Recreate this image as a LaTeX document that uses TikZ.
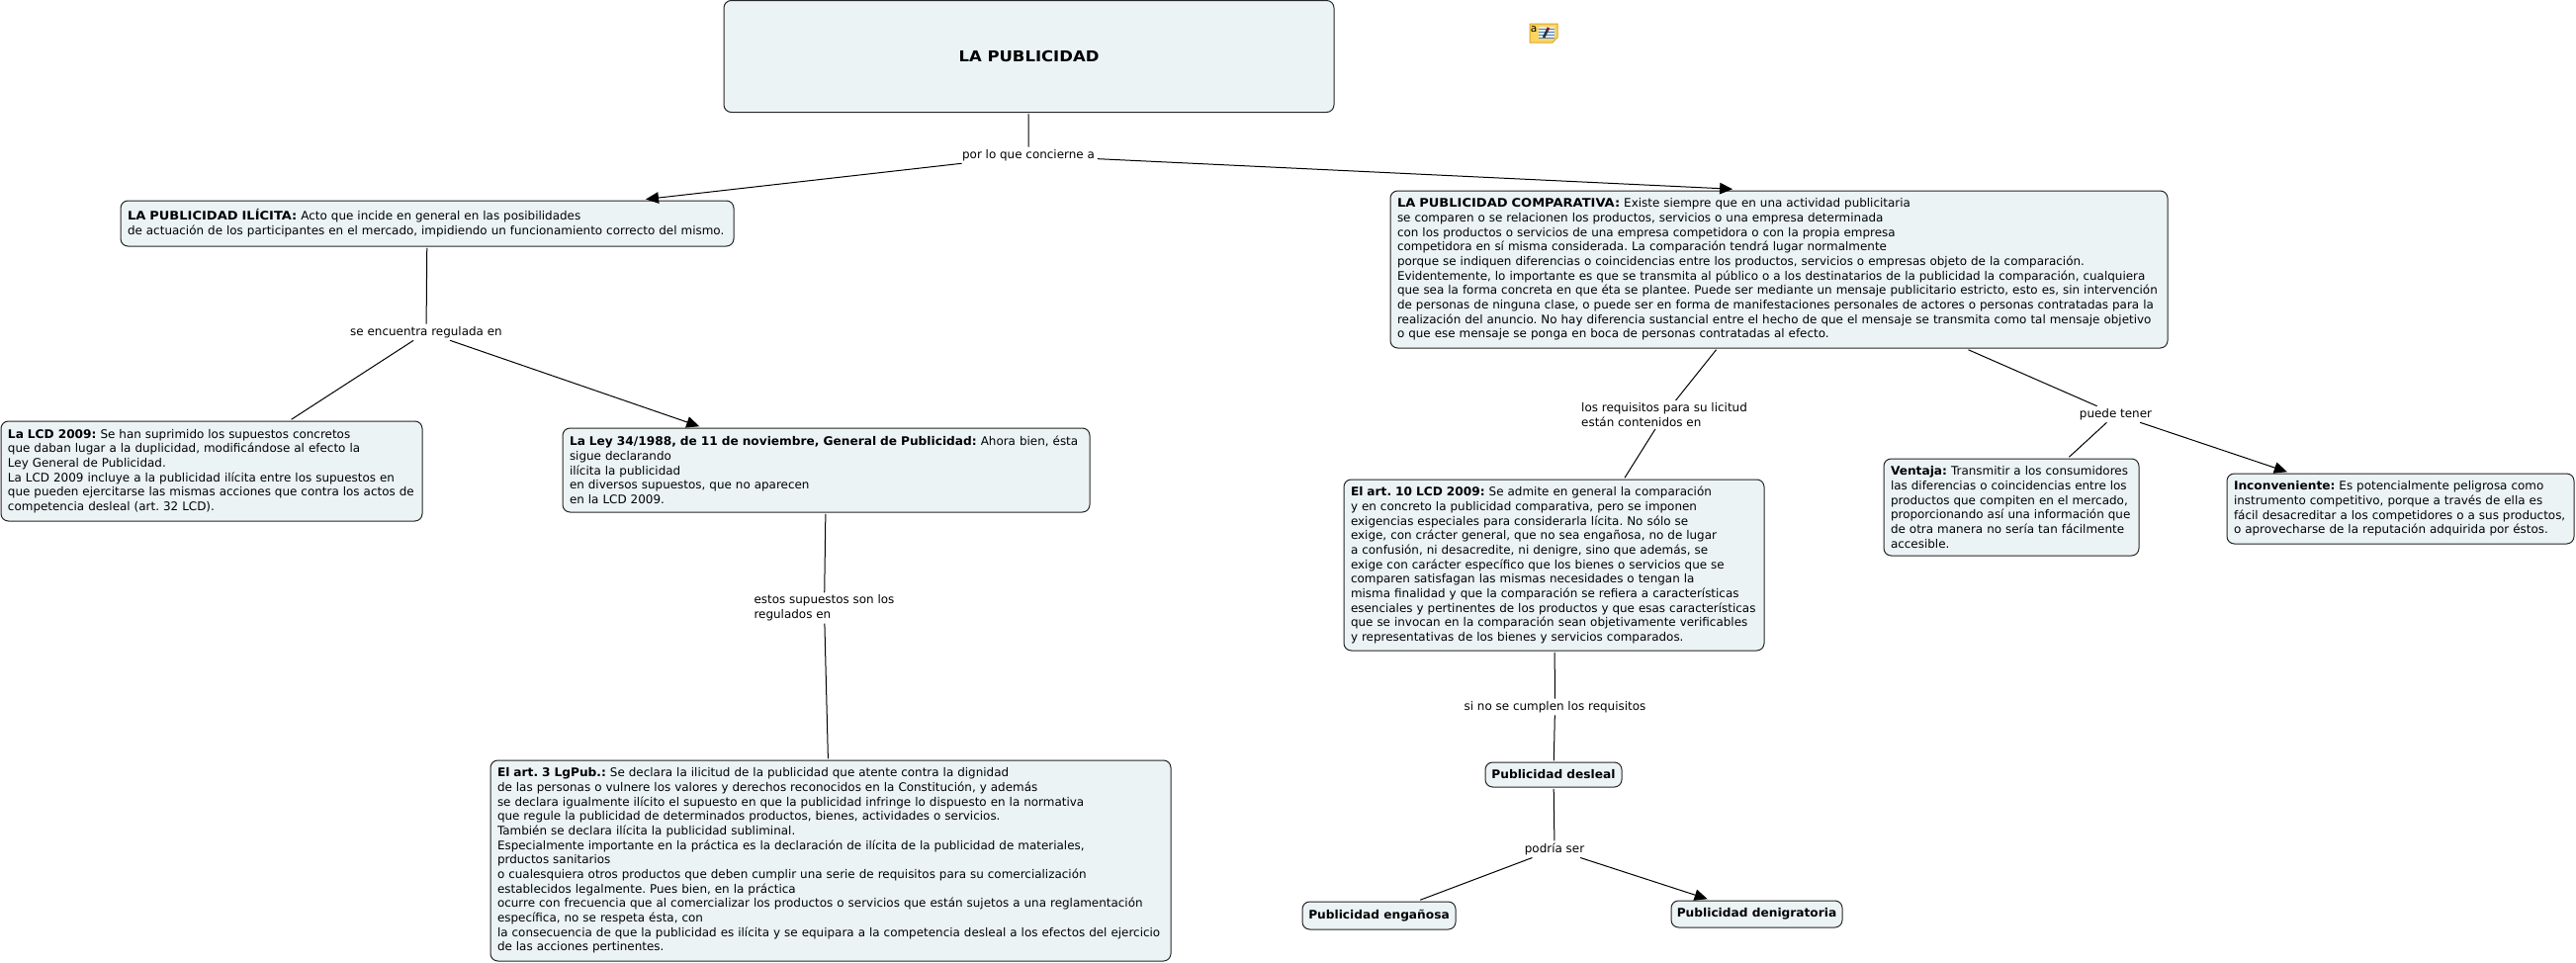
\documentclass[tikz,border=0pt]{standalone}
\usepackage{fontspec}
\setmainfont[BoldFeatures={FakeStretch=1.02}]{DejaVu Sans}
\newfontface\mayusculas[FakeStretch=1.09]{DejaVu Sans Bold}
\usetikzlibrary{arrows.meta}
\definecolor{cajafondo}{RGB}{236,243,245}
\definecolor{notaamarilla}{RGB}{250,214,96}
\definecolor{notaborde}{RGB}{222,164,40}
\definecolor{notalinea}{RGB}{70,130,200}
\newcommand{\letrachica}{\fontsize{6.8}{8.35}\selectfont\frenchspacing\hyphenpenalty=10000\exhyphenpenalty=10000 }

\begin{document}
\begin{tikzpicture}
				[x=0.2mm,y=-0.2mm,line width=0.2mm,
				cajabase/.style={draw=black!85,rounded corners=1.5mm,fill=cajafondo,inner ysep=0pt,outer sep=0.35mm,font=\letrachica},
				caja/.style 2 args={cajabase,align=left,inner xsep=1.4mm,text width=#1*0.2mm-2.8mm,minimum height=#2*0.2mm},
				cajita/.style 2 args={cajabase,inner xsep=0pt,minimum width=#1*0.2mm,minimum height=#2*0.2mm},
				enlace/.style={align=left,inner xsep=0.5mm,inner ysep=0.4mm,font=\letrachica}]
				\useasboundingbox (0,0) rectangle (2605,974);

				\node[cajita={617}{113},font=\mayusculas\fontsize{8.6}{11}\selectfont] (publicidad) at (1040.5,57) {LA PUBLICIDAD};
				\node[enlace] (concierne) at (1040,157) {por lo que concierne a};

				\node[caja={620}{46}] (ilicita) at (432,226) {{\mayusculas LA PUBLICIDAD ILÍCITA:} Acto que incide en general en las posibilidades\\
					de actuación de los participantes en el mercado, impidiendo un funcionamiento correcto del mismo.};
				\coordinate (entrada) at (653,201.5);
				\node[enlace] (regulada) at (431,336) {se encuentra regulada en};
				\node[caja={426}{101}] (lcd) at (214,476.5) {\textbf{La LCD 2009:} Se han suprimido los supuestos concretos\\
					que daban lugar a la duplicidad, modificándose al efecto la\\
					Ley General de Publicidad.\\
					La LCD 2009 incluye a la publicidad ilícita entre los supuestos en\\
					que pueden ejercitarse las mismas acciones que contra los actos de\\
					competencia desleal (art. 32 LCD).};
				\node[caja={533}{85}] (ley) at (835.5,475.5) {\textbf{La Ley 34/1988, de 11 de noviembre, General de Publicidad:} Ahora bien, ésta\\
					sigue declarando\\
					ilícita la publicidad\\
					en diversos supuestos, que no aparecen\\
					en la LCD 2009.};
				\node[enlace] (regulados) at (833.5,615) {estos supuestos son los\\regulados en};
				\node[caja={688}{203}] (art3) at (840,870.5) {\textbf{El art. 3 LgPub.:} Se declara la ilicitud de la publicidad que atente contra la dignidad\\
					de las personas o vulnere los valores y derechos reconocidos en la Constitución, y además\\
					se declara igualmente ilícito el supuesto en que la publicidad infringe lo dispuesto en la normativa\\
					que regule la publicidad de determinados productos, bienes, actividades o servicios.\\
					También se declara ilícita la publicidad subliminal.\\
					Especialmente importante en la práctica es la declaración de ilícita de la publicidad de materiales,\\
					prductos sanitarios\\
					o cualesquiera otros productos que deben cumplir una serie de requisitos para su comercialización\\
					establecidos legalmente. Pues bien, en la práctica\\
					ocurre con frecuencia que al comercializar los productos o servicios que están sujetos a una reglamentación\\
					específica, no se respeta ésta, con\\
					la consecuencia de que la publicidad es ilícita y se equipara a la competencia desleal a los efectos del ejercicio\\
					de las acciones pertinentes.};

				\node[caja={786}{159}] (comparativa) at (1799,272.5) {{\mayusculas LA PUBLICIDAD COMPARATIVA:} Existe siempre que en una actividad publicitaria\\
					se comparen o se relacionen los productos, servicios o una empresa determinada\\
					con los productos o servicios de una empresa competidora o con la propia empresa\\
					competidora en sí misma considerada. La comparación tendrá lugar normalmente\\
					porque se indiquen diferencias o coincidencias entre los productos, servicios o empresas objeto de la comparación.\\
					Evidentemente, lo importante es que se transmita al público o a los destinatarios de la publicidad la comparación, cualquiera\\
					que sea la forma concreta en que éta se plantee. Puede ser mediante un mensaje publicitario estricto, esto es, sin intervención\\
					de personas de ninguna clase, o puede ser en forma de manifestaciones personales de actores o personas contratadas para la\\
					realización del anuncio. No hay diferencia sustancial entre el hecho de que el mensaje se transmita como tal mensaje objetivo\\
					o que ese mensaje se ponga en boca de personas contratadas al efecto.};
				\node[enlace] (requisitos) at (1683,419.5) {los requisitos para su licitud\\están contenidos en};
				\node[caja={425}{173}] (art10) at (1571.5,571.5) {\textbf{El art. 10 LCD 2009:} Se admite en general la comparación\\
					y en concreto la publicidad comparativa, pero se imponen\\
					exigencias especiales para considerarla lícita. No sólo se\\
					exige, con crácter general, que no sea engañosa, no de lugar\\
					a confusión, ni desacredite, ni denigre, sino que además, se\\
					exige con carácter específico que los bienes o servicios que se\\
					comparen satisfagan las mismas necesidades o tengan la\\
					misma finalidad y que la comparación se refiera a características\\
					esenciales y pertinentes de los productos y que esas características\\
					que se invocan en la comparación sean objetivamente verificables\\
					y representativas de los bienes y servicios comparados.};
				\node[enlace] (tener) at (2139.5,419) {puede tener};
				\node[caja={258}{98}] (ventaja) at (2034,513) {\textbf{Ventaja:} Transmitir a los consumidores\\
					las diferencias o coincidencias entre los\\
					productos que compiten en el mercado,\\
					proporcionando así una información que\\
					de otra manera no sería tan fácilmente\\
					accesible.};
				\node[caja={351}{71}] (inconveniente) at (2427.5,514.5) {\textbf{Inconveniente:} Es potencialmente peligrosa como\\
					instrumento competitivo, porque a través de ella es\\
					fácil desacreditar a los competidores o a sus productos,\\
					o aprovecharse de la reputación adquirida por éstos.};

				\node[enlace] (sino) at (1572.5,715) {si no se cumplen los requisitos};
				\node[cajita={138}{25}] (desleal) at (1571,783.5) {\textbf{Publicidad desleal}};
				\node[enlace] (podria) at (1572,859) {podría ser};
				\node[cajita={155}{28}] (enganosa) at (1394.5,926) {\textbf{Publicidad engañosa}};
				\node[cajita={173}{27}] (denigratoria) at (1776.5,924.5) {\textbf{Publicidad denigratoria}};

				% lineas sin punta
				\foreach \a/\b in {publicidad/concierne,ilicita/regulada,regulada/lcd,ley/regulados,regulados/art3,
					comparativa.232/requisitos,requisitos/art10.51,comparativa.-23/tener,tener/ventaja.41,
					art10/sino,sino/desleal,desleal/podria,podria/enganosa}
				\draw (\a) -- (\b);

				% lineas con punta
				\foreach \a/\b in {concierne.187/entrada,concierne.-3/comparativa.120,regulada/ley,
					tener/inconveniente.162,podria/denigratoria.163}
				\draw[-{Triangle[length=2.6mm,width=2.3mm]}] (\a) -- (\b);

				% nota
				\fill[notaamarilla,draw=notaborde] (1547,24) -- (1575,24) -- (1575,38) -- (1570,43) -- (1547,43) -- cycle;
				\fill[white!85!notalinea] (1556,27) rectangle (1572,38);
				\foreach \y in {29,32,35,38}
				\draw[notalinea,line width=0.15mm] (1556,\y) -- (1572,\y);
				\draw[black!80,line width=0.5mm] (1561,38) -- (1565,30);
				\draw[red!70!black,line width=0.5mm] (1565,30) -- (1566,28);
				\node[inner sep=0pt,font=\fontsize{6}{6}\selectfont] (letra) at (1551,29.5) {a};
				\end{tikzpicture}
\end{document}
